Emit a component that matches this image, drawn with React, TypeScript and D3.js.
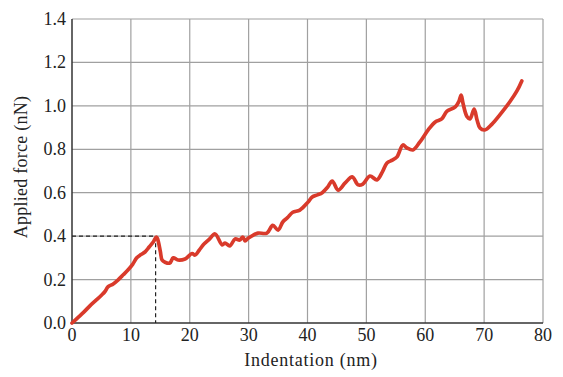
import React from "react";
import * as d3 from "d3";

const indentation = [0, 1, 2, 3, 4, 5, 5.6, 6.1, 7, 7.8, 8.7, 9.5, 10.3, 11.0, 11.7, 12.4, 13.1, 13.8, 14.3, 14.5, 15.0, 15.3, 15.8, 16.6, 17.2, 18.0, 19.2, 20.4, 20.9, 21.6, 22.3, 23.3, 24.3, 25.5, 26.0, 26.8, 27.7, 28.5, 29.0, 29.4, 29.9, 30.8, 31.6, 33.1, 34.1, 35.0, 35.8, 36.6, 37.5, 38.7, 40.1, 40.8, 41.7, 42.5, 43.4, 44.2, 45.2, 46.4, 47.6, 48.6, 49.4, 50.6, 51.8, 52.7, 53.5, 54.4, 55.2, 56.2, 56.9, 57.9, 59.1, 60.5, 61.7, 62.8, 63.7, 65.1, 65.7, 66.1, 66.4, 67.1, 67.6, 68.3, 68.8, 69.3, 70.1, 71.3, 72.7, 74.4, 75.6, 76.4];
const force = [0, 0.025, 0.05, 0.078, 0.103, 0.128, 0.145, 0.166, 0.18, 0.198, 0.222, 0.244, 0.27, 0.30, 0.315, 0.327, 0.35, 0.373, 0.396, 0.39, 0.33, 0.29, 0.28, 0.276, 0.30, 0.29, 0.295, 0.32, 0.313, 0.335, 0.36, 0.385, 0.41, 0.36, 0.368, 0.355, 0.387, 0.382, 0.396, 0.378, 0.39, 0.405, 0.414, 0.414, 0.45, 0.428, 0.465, 0.485, 0.51, 0.52, 0.557, 0.58, 0.59, 0.60, 0.625, 0.654, 0.612, 0.645, 0.673, 0.636, 0.64, 0.677, 0.659, 0.695, 0.737, 0.75, 0.765, 0.82, 0.806, 0.797, 0.834, 0.889, 0.926, 0.94, 0.976, 0.995, 1.02, 1.05, 1.013, 0.95, 0.94, 0.985, 0.935, 0.898, 0.889, 0.915, 0.96, 1.02, 1.07, 1.115];

const xTicks = [0, 10, 20, 30, 40, 50, 60, 70, 80];
const yTicks = [0.0, 0.2, 0.4, 0.6, 0.8, 1.0, 1.2, 1.4];
const peakX = 14.2;
const peakY = 0.4;

const W = 563, H = 377;
const left = 72, right = 543, top = 19, bottom = 323;

export default function App() {
  const x = d3.scaleLinear().domain([0, 80]).range([left, right]);
  const y = d3.scaleLinear().domain([0, 1.4]).range([bottom, top]);
  const pts = indentation.map((d, i) => [d, force[i]] as [number, number]);
  const line = d3.line<[number, number]>().x(d => x(d[0])).y(d => y(d[1])).curve(d3.curveCatmullRom.alpha(0.5));
  const font = "'Liberation Serif', 'Times New Roman', serif";
  return (
    <svg width={W} height={H} style={{ position: "absolute", left: 0, top: 0, background: "#fff" }} fontFamily={font}>
      {xTicks.slice(1).map(t => (
        <line key={"gx" + t} x1={x(t)} x2={x(t)} y1={top} y2={bottom} stroke="#a0a0a0" strokeWidth={1.2} />
      ))}
      {yTicks.slice(1).map(t => (
        <line key={"gy" + t} x1={left} x2={right} y1={y(t)} y2={y(t)} stroke="#a0a0a0" strokeWidth={1.2} />
      ))}
      <line x1={left} x2={right} y1={bottom} y2={bottom} stroke="#333" strokeWidth={1.5} />
      <line x1={left} x2={left} y1={top} y2={bottom} stroke="#333" strokeWidth={1.5} />
      <line x1={left} x2={x(peakX)} y1={y(peakY)} y2={y(peakY)} stroke="#222" strokeWidth={1.2} strokeDasharray="4,3" />
      <line x1={x(peakX)} x2={x(peakX)} y1={y(peakY)} y2={bottom} stroke="#222" strokeWidth={1.2} strokeDasharray="4,3" />
      <path d={line(pts) || ""} fill="none" stroke="#d93a2b" strokeWidth={3.7} strokeLinejoin="round" strokeLinecap="round" />
      {xTicks.map(t => (
        <text key={"tx" + t} x={x(t)} y={bottom + 18} textAnchor="middle" fontSize={18} fill="#222">{t}</text>
      ))}
      {yTicks.map(t => (
        <text key={"ty" + t} x={left - 6} y={y(t) + 6} textAnchor="end" fontSize={18} fill="#222">{t.toFixed(1)}</text>
      ))}
      <text x={311} y={366} textAnchor="middle" fontSize={18} letterSpacing={0.75} fill="#222">Indentation (nm)</text>
      <text transform={`translate(27, 167) rotate(-90)`} textAnchor="middle" fontSize={18} letterSpacing={0.25} fill="#222">Applied force (nN)</text>
    </svg>
  );
}
